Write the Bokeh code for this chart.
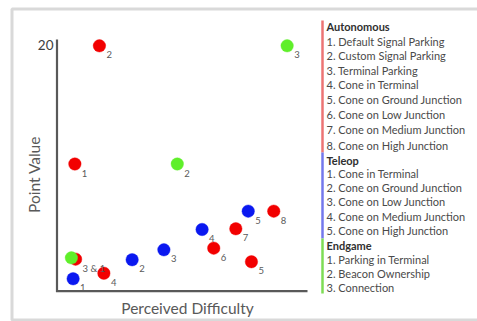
from bokeh.plotting import figure
from bokeh.models import Range1d, ColumnDataSource
from bokeh.core.properties import value
from bokeh.embed import file_html
from bokeh.resources import INLINE
import math

# ---------------- data ----------------
auto_x = [0.70, 1.69, 0.73, 1.87, 7.82, 6.30, 7.19, 8.72]
auto_y = [10.0, 20.0, 1.95, 0.76, 1.73, 2.88, 4.52, 6.01]
auto_lbl = ["1", "2", "3 & 1", "4", "5", "6", "7", "8"]

tele_x = [0.63, 3.01, 4.29, 5.83, 7.69]
tele_y = [0.29, 1.90, 2.74, 4.46, 6.01]
tele_lbl = ["1", "2", "3", "4", "5"]

end_x = [0.56, 4.83, 9.26]
end_y = [2.06, 10.0, 20.0]
end_lbl = ["", "2", "3"]

y_ticks = [20]
y_title = "Point Value"
x_title = "Perceived Difficulty"

legend_groups = [
    ("Autonomous", ["1. Default Signal Parking", "2. Custom Signal Parking", "3. Terminal Parking",
                    "4. Cone in Terminal", "5. Cone on Ground Junction", "6. Cone on Low Junction",
                    "7. Cone on Medium Junction", "8. Cone on High Junction"]),
    ("Teleop", ["1. Cone in Terminal", "2. Cone on Ground Junction", "3. Cone on Low Junction",
                "4. Cone on Medium Junction", "5. Cone on High Junction"]),
    ("Endgame", ["1. Parking in Terminal", "2. Beacon Ownership", "3. Connection"]),
]

RED, BLUE, GREEN = "#f20000", "#0a18f0", "#5fef2a"
BAR_COLORS = ["#ec7474", "#7478ec", "#7edc55"]

# ---------------- layout helpers (pixel -> data) ----------------
W, H = 477, 321
PX_X0, PX_PER_X = 57.0, 24.8
PX_Y0, PX_PER_Y = 281.7, 11.82


def dx(px):
    return (px - PX_X0) / PX_PER_X


def dy(py):
    return (PX_Y0 - py) / PX_PER_Y


p = figure(width=W, height=H, output_backend="svg", toolbar_location=None,
           x_range=Range1d(dx(0), dx(W)), y_range=Range1d(dy(H), dy(0)),
           x_axis_type=None, y_axis_type=None, min_border=0, title=None)
p.grid.visible = False
p.outline_line_color = None
p.background_fill_color = "white"
p.border_fill_color = "white"

FONT = value("Lato")

# outer frame
p.quad(left=[dx(11.5)], right=[dx(495)], top=[dy(8.5)], bottom=[dy(319.5)],
       fill_color=None, line_color="#d9d9d9", line_width=3)

# axes lines
ax_col = "#595959"
p.segment(x0=[dx(56.5)], y0=[dy(39)], x1=[dx(56.5)], y1=[dy(291.5)], line_color=ax_col, line_width=2.2)
p.segment(x0=[dx(55.5)], y0=[dy(290.7)], x1=[dx(307)], y1=[dy(290.7)], line_color=ax_col, line_width=2.2)

# tick label
p.text(x=[dx(53)] * len(y_ticks), y=y_ticks, text=[str(t) for t in y_ticks],
       text_align="right", text_baseline="middle", text_font=FONT,
       text_font_size="13.5px", text_color="#404040", y_offset=-0.5)

# axis titles
p.text(x=[dx(33)], y=[dy(174)], text=[y_title], angle=math.pi / 2,
       text_align="center", text_baseline="middle", text_font=FONT,
       text_font_size="15.5px", text_color="#595959")
p.text(x=[dx(187)], y=[dy(307)], text=[x_title],
       text_align="center", text_baseline="middle", text_font=FONT,
       text_font_size="15.5px", text_color="#595959")

# points
for xs, ys, col, lbls in [(auto_x, auto_y, RED, auto_lbl), (tele_x, tele_y, BLUE, tele_lbl),
                          (end_x, end_y, GREEN, end_lbl)]:
    src = ColumnDataSource(dict(x=xs, y=ys, t=lbls))
    p.scatter("x", "y", source=src, size=12.5, fill_color=col, line_color=col,
              line_alpha=0.5, line_width=0.8)
    p.text("x", "y", text="t", source=src, x_offset=7, y_offset=9,
           text_align="left", text_baseline="middle", text_font=FONT,
           text_font_size="9.5px", text_color="#5a5a5a")

# legend
row_y = [25.7, 41, 55, 69.5, 84, 99.3, 114.3, 129.3, 144.5,
         159.5, 172.5, 186.8, 201, 215.5, 230,
         245, 258.5, 272.7, 286.7]
bar_spans = [(20, 152), (152, 238), (238, 293)]
i = 0
for (head, items), bc, (b0, b1) in zip(legend_groups, BAR_COLORS, bar_spans):
    p.segment(x0=[dx(322)], y0=[dy(b0)], x1=[dx(322)], y1=[dy(b1)], line_color=bc, line_width=2.5)
    p.text(x=[dx(326)], y=[dy(row_y[i])], text=[head], text_align="left",
           text_baseline="middle", text_font=FONT, text_font_size="11px",
           text_font_style="bold", text_color="#303030")
    i += 1
    ys = [dy(row_y[i + k]) for k in range(len(items))]
    p.text(x=[dx(326)] * len(items), y=ys, text=items, text_align="left",
           text_baseline="middle", text_font=FONT, text_font_size="11px",
           text_color="#4a4a4a")
    i += len(items)

open("out.html", "w").write(file_html(p, INLINE))
